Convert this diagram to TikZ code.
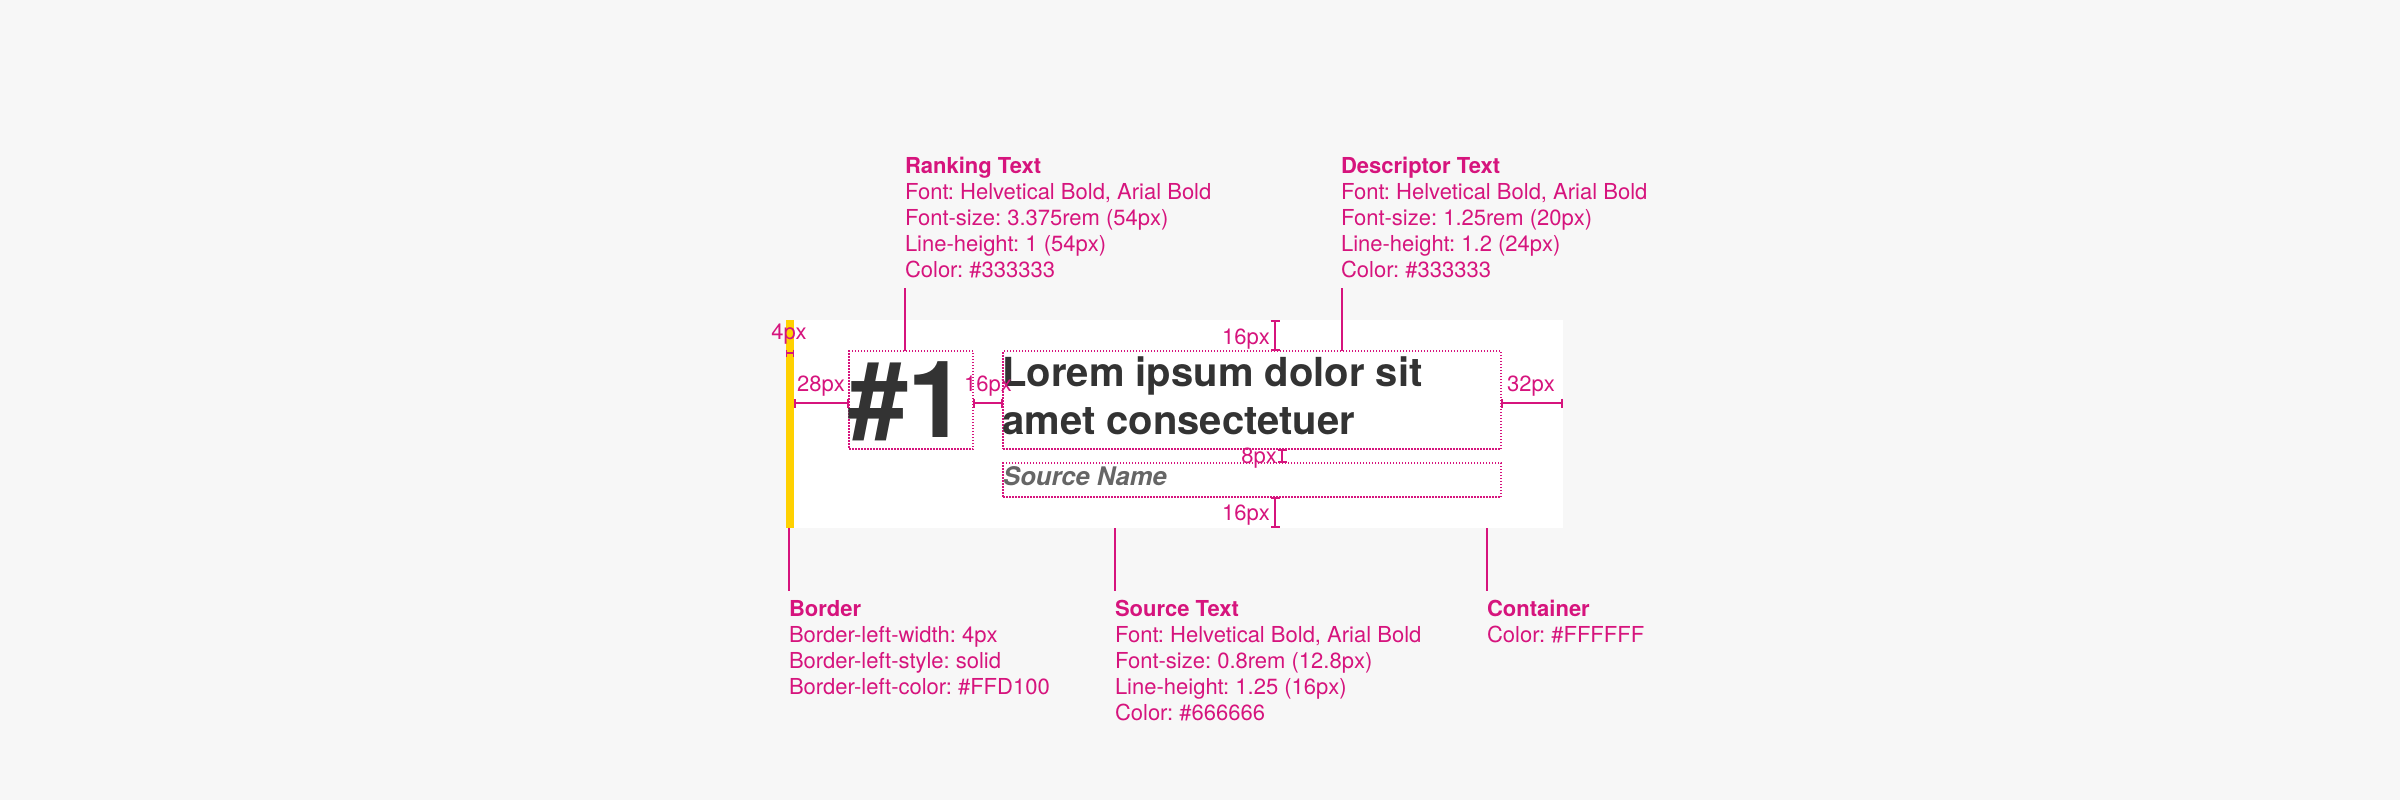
\documentclass[tikz,border=0pt]{standalone}
\usepackage{fontspec}
\setmainfont{TeX Gyre Heros}
\usetikzlibrary{arrows.meta}
\definecolor{annpink}{HTML}{D6147D}
\definecolor{bgcol}{HTML}{F7F7F7}
\definecolor{bordercol}{HTML}{FFD100}
\definecolor{darktext}{HTML}{333333}
\definecolor{srctext}{HTML}{666666}
\frenchspacing
\tikzset{
  ann/.style={anchor=north west, inner sep=0pt, outer sep=0pt, align=left, text=annpink,
    font=\fontsize{22}{26}\selectfont},
  dimlabel/.style={anchor=base, inner sep=0pt, text=annpink, font=\fontsize{22}{26}\selectfont},
  leader/.style={draw=annpink, line width=2pt},
  dimline/.style={draw=annpink, line width=2pt, {Bar[width=9pt,line width=2pt]}-{Bar[width=9pt,line width=2pt]}},
  smalldim/.style={draw=annpink, line width=1.2pt, {Bar[width=7pt,line width=1.2pt]}-{Bar[width=7pt,line width=1.2pt]}},
  dotbox/.style={draw=annpink, line width=1.5pt, dash pattern=on 1.5pt off 1.5pt, inner sep=0pt, outer sep=0pt, anchor=north west},
}
\begin{document}
\begin{tikzpicture}[x=1pt,y=-1pt]
\fill[bgcol] (0,0) rectangle (2400,800);
\useasboundingbox (0,0) rectangle (2400,800);

% container and border
\node[fill=white, inner sep=0pt, outer sep=0pt, anchor=north west, minimum width=777pt, minimum height=208pt] (container) at (786,320) {};
\node[fill=bordercol, inner sep=0pt, outer sep=0pt, anchor=north west, minimum width=8pt, minimum height=208pt] (border) at (786,320) {};

% content boxes
\node[dotbox, minimum width=124pt, minimum height=98pt] (rank) at (849,351) {};
\node[dotbox, minimum width=498pt, minimum height=98pt] (desc) at (1003,351) {};
\node[dotbox, minimum width=498pt, minimum height=34pt] (src) at (1003,463) {};

% content texts
\node[anchor=base west, inner sep=0pt, text=darktext, font=\fontsize{107}{107}\selectfont\bfseries] (ranktxt) at (848,437) {\#1};
\node[anchor=north west, inner sep=0pt, align=left, text=darktext, font=\fontsize{40}{48}\selectfont\bfseries] (desctxt) at (1002,352.4) {\strut Lorem ipsum dolor sit\\amet consectetuer};
\node[anchor=base west, inner sep=0pt, text=srctext, font=\fontsize{25.6}{32}\selectfont\bfseries\itshape] (srctxt) at (1003,485) {Source Name};

% dimension markers
\coordinate (dimy) at ([yshift=-3pt]rank.west);
\draw[dimline] (dimy -| border.east) -- (dimy);
\draw[dimline] (dimy -| rank.east) -- (dimy -| desc.west);
\draw[dimline] (dimy -| desc.east) -- (dimy -| container.east);
\coordinate (vx) at (1275,0);
\coordinate (vxb) at (1282,0);
\draw[dimline] (vx |- container.north) -- (vx |- desc.north);
\draw[dimline] (vxb |- desc.south) -- (vxb |- src.north);
\draw[dimline] (vx |- src.south) -- (vx |- container.south);
\coordinate (sy) at (790,353);
\draw[smalldim] (sy -| border.west) -- (sy -| border.east);

\node[dimlabel] (l4) at (789,339) {4px};
\node[dimlabel] (l28) at (821,391) {28px};
\node[dimlabel] (l16m) at (988,391) {16px};
\node[dimlabel] (l32) at (1531,391) {32px};
\node[dimlabel] (l16t) at (1246,344) {16px};
\node[dimlabel] (l8) at (1259,463) {8px};
\node[dimlabel] (l16b) at (1246,520) {16px};

% annotations
\node[ann] (rankann) at (905,154.8) {\strut\textbf{Ranking Text}\\Font: Helvetical Bold, Arial Bold\\Font-size: 3.375rem (54px)\\Line-height: 1 (54px)\\Color: \#333333};
\node[ann] (descann) at (1341,154.8) {\strut\textbf{Descriptor Text}\\Font: Helvetical Bold, Arial Bold\\Font-size: 1.25rem (20px)\\Line-height: 1.2 (24px)\\Color: \#333333};
\node[ann] (borderann) at (789,598.3) {\strut\textbf{Border}\\Border-left-width: 4px\\Border-left-style: solid\\Border-left-color: \#FFD100};
\node[ann] (srcann) at (1115,598.3) {\strut\textbf{Source Text}\\Font: Helvetical Bold, Arial Bold\\Font-size: 0.8rem (12.8px)\\Line-height: 1.25 (16px)\\Color: \#666666};
\node[ann] (contann) at (1487,598.3) {\strut\textbf{Container}\\Color: \#FFFFFF};

% leaders
\coordinate (rl) at (905,288);
\coordinate (dl) at (1342,288);
\coordinate (bl) at (789,591);
\coordinate (sl) at (1115,591);
\coordinate (cl) at (1487,591);
\draw[leader] (rl) -- (rl |- rank.north);
\draw[leader] (dl) -- (dl |- desc.north);
\draw[leader] (bl |- container.south) -- (bl);
\draw[leader] (sl |- container.south) -- (sl);
\draw[leader] (cl |- container.south) -- (cl);
\end{tikzpicture}
\end{document}
